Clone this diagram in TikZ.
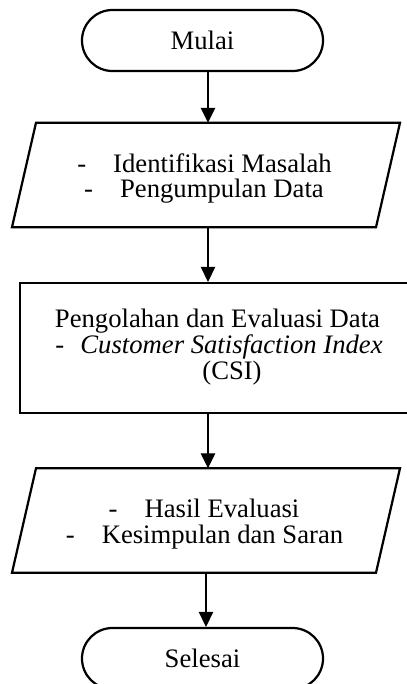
\documentclass[tikz,border=0pt]{standalone}
\usepackage{fontspec}
\setmainfont{Liberation Serif}
\usetikzlibrary{arrows.meta,calc}
\tikzset{
  shapeline/.style={draw=black, line width=1pt},
  terminal/.style={shapeline, rounded corners=13.7pt, minimum width=108.45pt, minimum height=27.45pt, inner sep=0pt},
  procbox/.style={shapeline, minimum width=177.75pt, minimum height=58.5pt, inner sep=0pt},
  iobox/.style={minimum width=174.6pt, minimum height=47pt, inner sep=0pt, outer sep=0pt},
  flow/.style={line width=0.5pt, -{Triangle[length=6.75pt, width=6.5pt]}},
  txt/.style={anchor=base, inner sep=0pt},
}
% list dash followed by the tab gap
\newcommand\bullethyphen{\makebox[16.2pt][l]{-}}

\begin{document}
\begin{tikzpicture}[x=0.45pt, y=-0.45pt, font=\fontsize{12}{11.7}\selectfont]
\path[use as bounding box, clip] (0,0) rectangle (407,684);

% vertical axis of the flow connectors
\coordinate (spine) at (208,0);

% shapes
\node[terminal] (mulai) at (202.5,40.5) {Mulai};
\node[iobox] (p1) at (206,175) {};
\draw[shapeline] ($(p1.north west)+(24,0)$) -- (p1.north east)
  -- ($(p1.south east)+(-24,0)$) -- (p1.south west) -- cycle;
\node[procbox] (proc) at (217.5,348) {};
\node[iobox] (p2) at (206,520.5) {};
\draw[shapeline] ($(p2.north west)+(24,0)$) -- (p2.north east)
  -- ($(p2.south east)+(-24,0)$) -- (p2.south west) -- cycle;
\node[terminal] (selesai) at (202.5,658.5) {Selesai};

% texts
\node[txt] (p1a) at (204.5,172) {\bullethyphen Identifikasi Masalah};
\node[txt] (p1b) at (204,197) {\bullethyphen Pengumpulan Data};
\node[txt] (pra) at (217.5,327) {Pengolahan dan Evaluasi Data};
\node[txt, anchor=base west] (prb) at (55,353) {\makebox[11.25pt][l]{-}\textit{Customer Satisfaction Index}};
\node[txt] (prc) at (232,379) {(CSI)};
\node[txt] (p2a) at (204,517) {\bullethyphen Hasil Evaluasi};
\node[txt] (p2b) at (204.5,543) {\bullethyphen Kesimpulan dan Saran};

% connectors
\draw[flow] (mulai.south -| spine) -- (p1.north -| spine);
\draw[flow] (p1.south -| spine) -- (proc.north -| spine);
\draw[flow] (proc.south -| spine) -- (p2.north -| spine);
\draw[flow] (p2.south) -- (p2.south |- selesai.north);
\end{tikzpicture}
\end{document}
